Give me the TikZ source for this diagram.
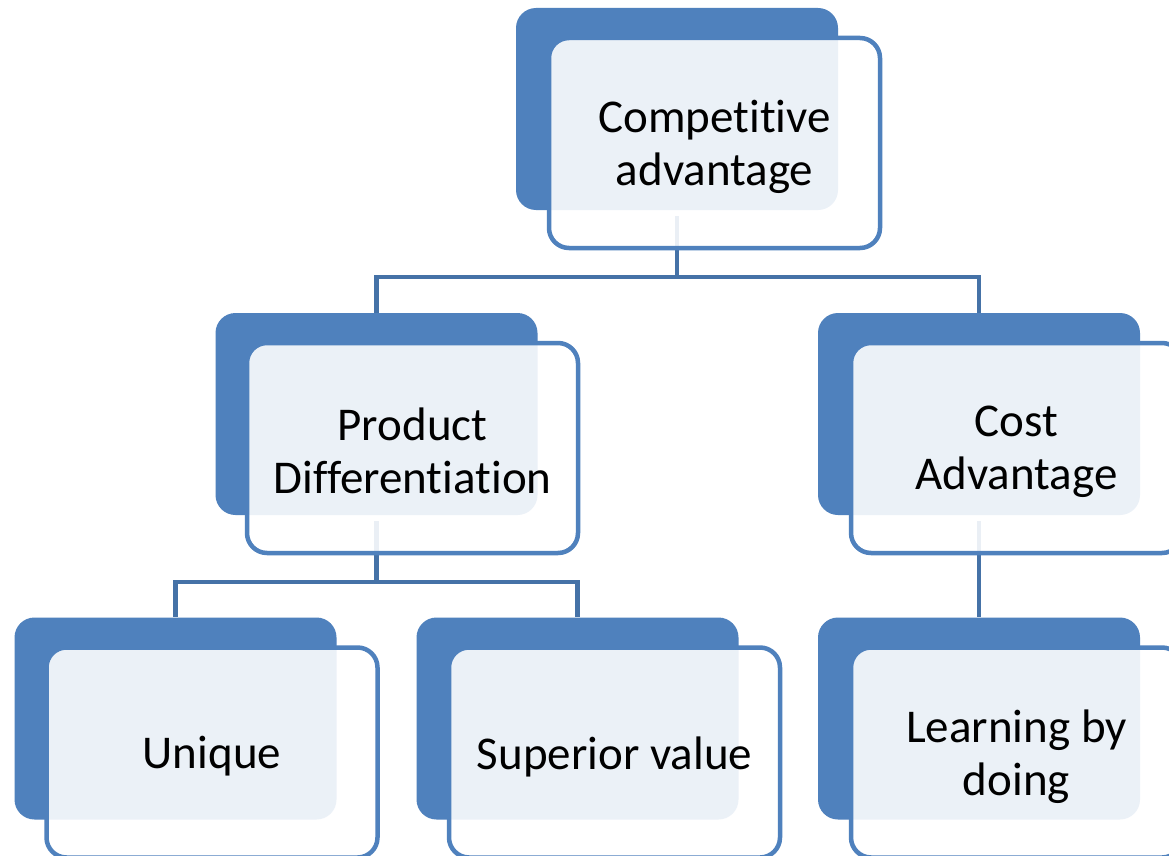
\documentclass[tikz,border=0pt]{standalone}
\usepackage{fontspec}
\setmainfont[Ligatures=NoCommon]{Carlito}
\definecolor{boxblue}{HTML}{4F81BD}
\definecolor{connblue}{HTML}{4572A7}
\begin{document}
\begin{tikzpicture}[x=1pt,y=-1pt,
  backbox/.style={draw=none,fill=boxblue,rounded corners=20pt,minimum width=322pt,minimum height=202pt,inner sep=0pt},
  frontbox/.style={draw=boxblue,line width=4.5pt,fill=white,fill opacity=0.89,rounded corners=20pt,minimum width=331pt,minimum height=210pt,inner sep=0pt},
  txt/.style={align=center,inner sep=0pt,font=\fontsize{47pt}{53pt}\selectfont},
  conn/.style={draw=connblue,line width=4.5pt}]
\useasboundingbox (0,0) rectangle (1169,856);
\clip (0,0) rectangle (1169,856);
\fill[white] (0,0) rectangle (1169,856);
% back boxes
\node[backbox] (b1) at (677,109) {};
\node[backbox] (b2) at (376.5,414) {};
\node[backbox] (b3) at (979,414) {};
\node[backbox] (b4) at (175.5,718.5) {};
\node[backbox] (b5) at (577.5,718.5) {};
\node[backbox] (b6) at (979,718.5) {};
% connectors
\draw[conn] ([yshift=-6pt]b1.south) -- ++(0,61) -| (b2.north);
\draw[conn] ([yshift=-6pt]b1.south) -- ++(0,61) -| (b3.north);
\draw[conn] ([yshift=-6pt]b2.south) -- ++(0,61) -| (b4.north);
\draw[conn] ([yshift=-6pt]b2.south) -- ++(0,61) -| (b5.north);
\draw[conn] ([yshift=-6pt]b3.south) -- (b6.north);
% front boxes
\node[frontbox] (f1) at (714.5,143) {};
\node[frontbox] (f2) at (412.5,448) {};
\node[frontbox] (f3) at (1016.5,448) {};
\node[frontbox] (f4) at (212,752.5) {};
\node[frontbox] (f5) at (614.5,752.5) {};
\node[frontbox] (f6) at (1016.5,752.5) {};
% texts
\node[txt] (t1) at ([yshift=-4pt]f1.center) {Competitive\\advantage};
\node[txt] (t2) at ([yshift=-3pt]f2.center) {Product\\Differentiation};
\node[txt] (t3) at ([yshift=-4pt]f3.center) {Cost\\Advantage};
\node[txt] (t4) at ([yshift=-4pt]f4.center) {Unique};
\node[txt] (t5) at ([yshift=-4pt]f5.center) {Superior value};
\node[txt] (t6) at ([yshift=-4pt]f6.center) {Learning by\\doing};
\end{tikzpicture}
\end{document}
